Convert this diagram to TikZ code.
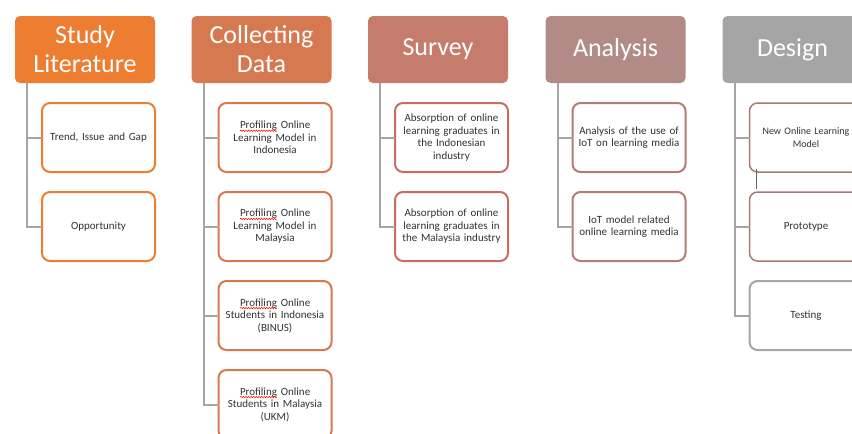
\documentclass[tikz,border=0pt]{standalone}
\usepackage{fontspec}
\setmainfont{Carlito}
\usetikzlibrary{positioning,calc,decorations.pathmorphing}
\definecolor{cstudy}{RGB}{237,125,49}
\definecolor{ccollect}{RGB}{214,121,80}
\definecolor{csurvey}{RGB}{197,124,109}
\definecolor{canalysis}{RGB}{179,139,134}
\definecolor{cdesign}{RGB}{165,165,165}
\definecolor{csurveyl}{RGB}{196,110,100}
\definecolor{canalysisl}{RGB}{180,124,118}
\definecolor{cdesignl}{RGB}{168,122,116}
\definecolor{cline}{RGB}{165,165,165}
\definecolor{ctext}{RGB}{50,50,50}
% red wavy underline of the spell checker
\newcommand{\redwave}[1]{\tikz[baseline=(w.base)]{%
  \node[draw=none, fill=none, inner sep=0pt, outer sep=0pt, minimum width=0pt,
    minimum height=0pt, text width={}, rounded corners=0pt] (w) {#1};
  \draw[red, line width=0.5pt, sharp corners, decorate,
    decoration={snake, amplitude=0.7pt, segment length=2.6pt}]
    ([yshift=-2pt]w.base west) -- ([yshift=-2pt]w.base east);}}

\begin{document}
\begin{tikzpicture}[x=1pt,y=-1pt,
    phase/.style={fill=#1, text=white, rounded corners=5pt, minimum width=140pt,
      minimum height=67pt, inner sep=0pt, outer sep=0pt, align=center,
      font=\fontsize{26}{29}\selectfont},
    task/.style={draw=#1, line width=2pt, fill=white, rounded corners=8pt,
      minimum width=113pt, minimum height=69pt, inner sep=0pt, outer sep=0pt,
      text width=106pt, align=center, text=ctext, font=\fontsize{11}{12.5}\selectfont},
    link/.style={draw=cline, line width=2pt}]
  \useasboundingbox (0,0) rectangle (852,434);
  \clip (0,0) rectangle (852,434);

  % phase headers
  \node[phase=cstudy]    (study)    at (85,49.5)    {Study\\Literature};
  \node[phase=ccollect]  (collect)  at (261.5,49.5) {Collecting\\Data};
  \node[phase=csurvey]   (survey)   at (438,49.5)   {Survey};
  \node[phase=canalysis] (analysis) at (615.5,49.5) {Analysis};
  \node[phase=cdesign]   (design)   at (792.5,49.5) {Design};

  % Study Literature
  \node[task=cstudy, below=20pt of study.south, xshift=13.5pt] (study1) {Trend, Issue and Gap};
  \node[task=cstudy, below=20pt of study1] (study2) {Opportunity};
  \draw[link] ([xshift=12pt]study.south west) |- (study1.west);
  \draw[link] ([xshift=12pt]study.south west) |- (study2.west);

  % Collecting Data
  \node[task=ccollect, below=20pt of collect.south, xshift=13.5pt] (collect1)
    {\redwave{Profiling} Online\\Learning Model in\\Indonesia};
  \node[task=ccollect, below=20pt of collect1] (collect2)
    {\redwave{Profiling} Online\\Learning Model in\\Malaysia};
  \node[task=ccollect, below=20pt of collect2] (collect3)
    {\redwave{Profiling} Online\\Students in Indonesia\\(BINUS)};
  \node[task=ccollect, below=20pt of collect3] (collect4)
    {\redwave{Profiling} Online\\Students in Malaysia\\(UKM)};
  \draw[link] ([xshift=12pt]collect.south west) |- (collect1.west);
  \draw[link] ([xshift=12pt]collect.south west) |- (collect2.west);
  \draw[link] ([xshift=12pt]collect.south west) |- (collect3.west);
  \draw[link] ([xshift=12pt]collect.south west) |- (collect4.west);

  % Survey
  \node[task=csurveyl, below=20pt of survey.south, xshift=13.5pt] (survey1)
    {Absorption of online\\learning graduates in\\the Indonesian\\industry};
  \node[task=csurveyl, below=20pt of survey1] (survey2)
    {Absorption of online\\learning graduates in\\the Malaysia industry};
  \draw[link] ([xshift=12pt]survey.south west) |- (survey1.west);
  \draw[link] ([xshift=12pt]survey.south west) |- (survey2.west);

  % Analysis
  \node[task=canalysisl, below=20pt of analysis.south, xshift=13.5pt] (analysis1)
    {Analysis of the use of\\IoT on learning media};
  \node[task=canalysisl, below=20pt of analysis1] (analysis2)
    {IoT model related\\online learning media};
  \draw[link] ([xshift=12pt]analysis.south west) |- (analysis1.west);
  \draw[link] ([xshift=12pt]analysis.south west) |- (analysis2.west);

  % Design
  \node[task=cdesignl, line width=1.5pt, font=\fontsize{10}{12.5}\selectfont,
    below=20pt of design.south, xshift=13.5pt] (design1) {New Online Learning\\Model};
  \node[task=cdesignl, line width=1.5pt, below=20pt of design1] (design2) {Prototype};
  \node[task=cdesign, below=20pt of design2] (design3) {Testing};
  \draw[link] ([xshift=12pt]design.south west) |- (design1.west);
  \draw[link] ([xshift=12pt]design.south west) |- (design2.west);
  \draw[link] ([xshift=12pt]design.south west) |- (design3.west);
  \draw[draw=black!60, line width=1pt] ([xshift=7pt,yshift=3pt]design1.south west)
    -- ([xshift=7pt,yshift=3pt]design2.north west);
\end{tikzpicture}
\end{document}
